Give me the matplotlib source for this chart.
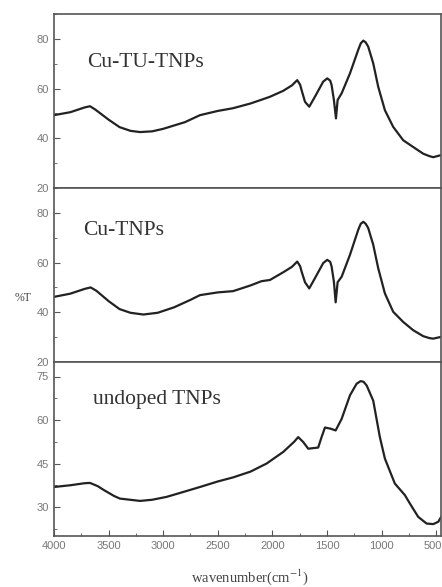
import matplotlib
matplotlib.use("Agg")
import matplotlib.pyplot as plt
import matplotlib.transforms as mtransforms
from matplotlib.ticker import MultipleLocator

plt.rcParams["mathtext.fontset"] = "stix"

# ---- data (wavenumber cm^-1, %T) ----
wn_cutu = [4000, 3850, 3720, 3670, 3620, 3500, 3400, 3300, 3212, 3100, 3000, 2800, 2663, 2500,
           2360, 2200, 2100, 2022, 1900, 1820, 1772, 1745, 1732, 1701, 1662, 1610, 1534, 1497,
           1470, 1457, 1436, 1417, 1402, 1365, 1289, 1213, 1190, 1167, 1145, 1122, 1076, 1030,
           969, 893, 801, 710, 618, 560, 526, 465]
t_cutu = [49.3, 50.5, 52.4, 52.9, 51.5, 47.5, 44.5, 43.0, 42.5, 42.8, 43.8, 46.5, 49.3, 51.0,
          52.1, 54.0, 55.5, 56.7, 59.1, 61.3, 63.4, 61.5, 59.4, 54.7, 52.7, 56.7, 62.8, 64.1,
          63.2, 61.4, 55.4, 48.0, 55.4, 58.1, 66.1, 75.6, 78.2, 79.3, 78.6, 76.9, 70.2, 60.7,
          51.3, 44.6, 39.2, 36.5, 33.8, 32.8, 32.4, 33.1]

wn_cu = [4000, 3850, 3720, 3664, 3610, 3500, 3400, 3300, 3182, 3050, 2900, 2750, 2663, 2500,
         2360, 2200, 2100, 2022, 1900, 1820, 1772, 1745, 1732, 1701, 1662, 1610, 1534, 1497,
         1470, 1457, 1436, 1420, 1402, 1365, 1289, 1213, 1190, 1167, 1145, 1122, 1076, 1030,
         969, 893, 801, 710, 618, 560, 526, 465]
t_cu = [46.2, 47.5, 49.4, 50.0, 48.6, 44.5, 41.3, 39.8, 39.1, 39.8, 42.0, 45.0, 46.9, 48.0,
        48.5, 50.8, 52.5, 53.0, 56.1, 58.3, 60.4, 58.5, 56.4, 52.1, 49.6, 53.7, 59.8, 61.1,
        60.3, 58.4, 52.3, 44.0, 52.1, 54.3, 63.1, 73.2, 75.6, 76.4, 75.6, 73.9, 67.2, 57.7,
        47.6, 40.2, 36.1, 32.8, 30.4, 29.6, 29.4, 30.0]

wn_und = [4000, 3850, 3720, 3670, 3600, 3550, 3450, 3396, 3212, 3100, 2968, 2850, 2663, 2500,
          2360, 2200, 2052, 1900, 1800, 1763, 1717, 1671, 1580, 1549, 1518, 1466, 1420, 1365,
          1289, 1228, 1192, 1165, 1136, 1076, 1015, 969, 878, 786, 740, 664, 587, 526, 480, 450]
t_und = [36.9, 37.5, 38.2, 38.3, 37.2, 36.0, 33.8, 32.9, 32.1, 32.5, 33.5, 34.8, 36.9, 38.8,
         40.2, 42.2, 45.0, 49.0, 52.5, 54.1, 52.4, 50.1, 50.5, 54.1, 57.4, 57.0, 56.4, 60.4,
         68.5, 72.5, 73.4, 73.2, 71.9, 66.7, 54.1, 46.7, 38.1, 34.1, 31.2, 26.6, 24.3, 24.1,
         24.9, 26.8]

labels = ["Cu-TU-TNPs", "Cu-TNPs", "undoped TNPs"]
x_ticks = [4000, 3500, 3000, 2500, 2000, 1500, 1000, 500]

# ---- figure ----
fig = plt.figure(figsize=(4.42, 5.87), dpi=100)
left, right = 54 / 442, 441 / 442
top_px, h_px = 14, 174
axes = []
for i in range(3):
    y0 = 1 - (top_px + (i + 1) * h_px) / 587
    ax = fig.add_axes([left, y0, right - left, h_px / 587])
    axes.append(ax)

series = [(wn_cutu, t_cutu), (wn_cu, t_cu), (wn_und, t_und)]
ylims = [(20, 90), (20, 90), (20, 80)]
ymaj = [20, 20, 15]
label_pos = [(0.085, 0.72), (0.074, 0.757), (0.10, 0.787)]

spine_col = "#555555"
tick_col = "#777777"
for i, ax in enumerate(axes):
    x, y = series[i]
    ax.plot(x, y, color="#222222", lw=1.6, solid_joinstyle="round")
    ax.set_xlim(4000, 455)
    ax.set_ylim(*ylims[i])
    ax.yaxis.set_major_locator(MultipleLocator(ymaj[i]))
    ax.yaxis.set_minor_locator(MultipleLocator(ymaj[i] / 2))
    if i == 2:
        ax.set_yticks([30, 45, 60, 75])
    ax.xaxis.set_major_locator(MultipleLocator(500))
    ax.xaxis.set_minor_locator(MultipleLocator(250))
    for s in ax.spines.values():
        s.set_color(spine_col)
        s.set_linewidth(1.2)
    ax.tick_params(axis="both", which="both", direction="in", color=spine_col,
                   labelcolor=tick_col, labelsize=8)
    ax.tick_params(which="major", length=4)
    ax.tick_params(which="minor", length=2)
    ax.tick_params(axis="y", right=False)
    for lab in ax.get_yticklabels():
        lab.set_family("Liberation Sans")
    if i < 2:
        ax.tick_params(axis="x", which="both", bottom=False, labelbottom=False)
    else:
        ax.set_xticks(x_ticks)
        ax.set_xticklabels([str(v) for v in x_ticks], family="Liberation Sans")
        last = ax.get_xticklabels()[-1]
        last.set_transform(last.get_transform() +
                           mtransforms.ScaledTranslation(-3 / 100, 0, fig.dpi_scale_trans))
    ax.text(label_pos[i][0], label_pos[i][1], labels[i], transform=ax.transAxes,
            family="Liberation Serif", fontsize=15.5, color="#333333", va="center", ha="left")

fig.text(23 / 442, 1 - 298 / 587, "%T", family="Liberation Serif", fontsize=8.5,
         color="#444444", ha="center", va="center")
fig.text(250 / 442, 1 - 577 / 587, "wavenumber(cm$^{-1}$)", family="Liberation Serif",
         fontsize=10.5, color="#444444", ha="center", va="center")

fig.savefig("out.png", dpi=100)
